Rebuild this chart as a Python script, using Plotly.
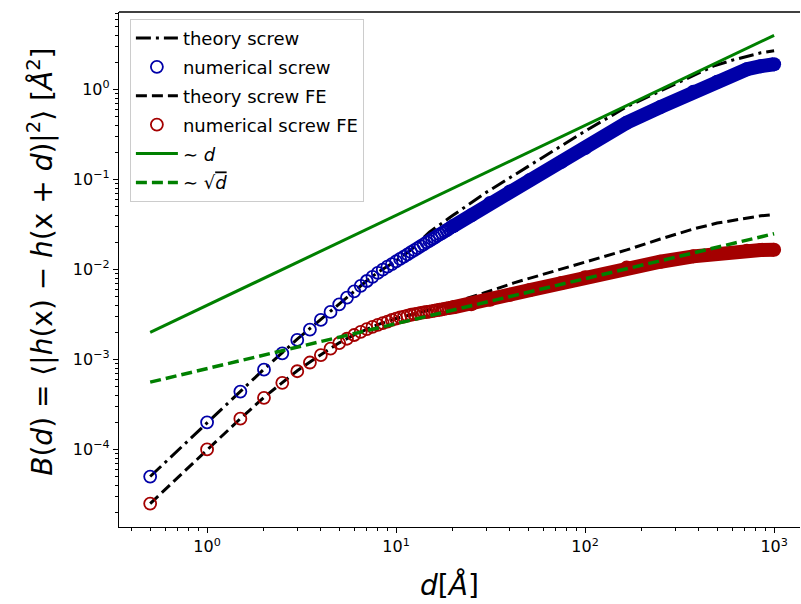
import plotly.graph_objects as go

# ---------------- data ----------------
d_num = [0.5, 1.0, 1.5, 2.0, 2.5, 3.0, 3.5, 4.0, 4.5, 5.0,
         5.5, 6.0, 6.5, 7.0, 7.5, 8.0, 8.5, 9.0, 9.5, 10.0,
         10.5, 11.0, 11.5, 12.0, 12.5, 13.0, 13.5, 14.0, 14.5, 15.0,
         15.5, 16.0, 16.5, 17.0, 17.5, 18.0, 18.5, 19.0, 19.5, 20.0]
screw_num = [5.0e-5, 2.0e-4, 4.4e-4, 7.7e-4, 1.17e-3, 1.65e-3, 2.15e-3, 2.75e-3, 3.38e-3, 4.1e-3,
             4.88e-3, 5.72e-3, 6.58e-3, 7.45e-3, 8.3e-3, 9.15e-3, 9.95e-3, 1.075e-2, 1.15e-2, 1.23e-2,
             1.31e-2, 1.39e-2, 1.475e-2, 1.56e-2, 1.64e-2, 1.73e-2, 1.82e-2, 1.90e-2, 2.00e-2, 2.08e-2,
             2.17e-2, 2.26e-2, 2.36e-2, 2.45e-2, 2.54e-2, 2.64e-2, 2.73e-2, 2.83e-2, 2.93e-2, 3.03e-2]
fe_num = [2.5e-5, 1.0e-4, 2.2e-4, 3.75e-4, 5.5e-4, 7.4e-4, 9.25e-4, 1.12e-3, 1.32e-3, 1.52e-3,
          1.70e-3, 1.87e-3, 2.03e-3, 2.17e-3, 2.30e-3, 2.42e-3, 2.53e-3, 2.64e-3, 2.75e-3, 2.85e-3,
          2.93e-3, 3.00e-3, 3.07e-3, 3.14e-3, 3.19e-3, 3.24e-3, 3.29e-3, 3.33e-3, 3.37e-3, 3.41e-3,
          3.45e-3, 3.49e-3, 3.53e-3, 3.57e-3, 3.61e-3, 3.65e-3, 3.69e-3, 3.73e-3, 3.77e-3, 3.80e-3]

# dense part of the numerical data (markers merge into a band)
d_band = [20, 25, 31.4, 40, 51, 75, 100, 166, 250, 374, 500, 718, 850, 1000]
screw_band = [0.0303, 0.040, 0.055, 0.0735, 0.099, 0.157, 0.224, 0.428, 0.638, 0.946, 1.22, 1.68, 1.82, 1.91]
fe_band = [3.8e-3, 4.1e-3, 4.6e-3, 5.25e-3, 5.9e-3, 7.1e-3, 8.2e-3, 0.0105, 0.0122, 0.0140, 0.0152, 0.0162, 0.0165, 0.0166]

d_th_screw = [0.5, 1, 1.5, 2, 3, 4, 5, 6, 7, 8, 10, 12, 15, 20, 30, 50, 75, 100,
              166, 250, 374, 477, 600, 718, 850, 1000]
screw_th = [5e-5, 2e-4, 4.45e-4, 7.8e-4, 1.68e-3, 2.8e-3, 4.15e-3, 5.8e-3, 7.5e-3, 9.3e-3,
            0.0125, 0.0165, 0.026, 0.040, 0.072, 0.14, 0.235, 0.345,
            0.644, 0.97, 1.43, 1.82, 2.12, 2.36, 2.56, 2.70]

d_th_fe = [0.5, 1, 1.5, 2, 3, 4, 5, 6, 7, 8, 10, 12, 15, 20, 26.7, 30, 42, 60, 80, 100,
           166, 250, 374, 500, 718, 850, 1000]
fe_th = [2.5e-5, 1e-4, 2.2e-4, 3.8e-4, 7.5e-4, 1.13e-3, 1.53e-3, 1.88e-3, 2.18e-3, 2.44e-3,
         2.85e-3, 3.15e-3, 3.55e-3, 4.25e-3, 5.15e-3, 5.6e-3, 7.1e-3, 8.8e-3, 0.0106, 0.0121,
         0.0165, 0.0218, 0.0282, 0.0328, 0.0375, 0.0395, 0.0408]

d_ref = [0.5, 1000]
lin_ref = [2.0e-3, 4.0]
sqrt_ref = [5.6e-4, 0.025]

x_tick_vals = [1, 10, 100, 1000]
x_tick_text = ["10<sup>0</sup>", "10<sup>1</sup>", "10<sup>2</sup>", "10<sup>3</sup>"]
y_tick_vals = [1e-4, 1e-3, 1e-2, 1e-1, 1]
y_tick_text = ["10<sup>\u22124</sup>", "10<sup>\u22123</sup>", "10<sup>\u22122</sup>",
               "10<sup>\u22121</sup>", "10<sup>0</sup>"]

labels = ["theory screw", "numerical screw", "theory screw FE", "numerical screw FE",
          "\u223c <i>d</i>",
          "\u223c \u221a<span style=\"text-decoration:overline\"><i>d</i></span>"]

# ---------------- styles ----------------
BLUE = "#0000A8"
RED = "#A40000"
GREEN = "#008000"
FONT = "DejaVu Sans"

fig = go.Figure()

# theory screw
fig.add_trace(go.Scatter(x=d_th_screw, y=screw_th, mode="lines", name=labels[0],
                         legendgroup="g1",
                         line=dict(color="black", width=3, dash="15px,5px,3px,5px")))
# numerical screw
fig.add_trace(go.Scatter(x=d_num, y=screw_num, mode="markers", name=labels[1],
                         legendgroup="g2",
                         marker=dict(symbol="circle-open", size=12, color=BLUE,
                                     line=dict(width=1.8, color=BLUE))))
fig.add_trace(go.Scatter(x=d_band, y=screw_band, mode="lines+markers", showlegend=False,
                         legendgroup="g2", hoverinfo="skip",
                         line=dict(color=BLUE, width=14),
                         marker=dict(symbol="circle", size=14, color=BLUE)))
# theory screw FE
fig.add_trace(go.Scatter(x=d_th_fe, y=fe_th, mode="lines", name=labels[2],
                         legendgroup="g3",
                         line=dict(color="black", width=3, dash="11px,5px")))
# numerical screw FE
fig.add_trace(go.Scatter(x=d_num, y=fe_num, mode="markers", name=labels[3],
                         legendgroup="g4",
                         marker=dict(symbol="circle-open", size=12, color=RED,
                                     line=dict(width=1.8, color=RED))))
fig.add_trace(go.Scatter(x=d_band, y=fe_band, mode="lines+markers", showlegend=False,
                         legendgroup="g4", hoverinfo="skip",
                         line=dict(color=RED, width=14),
                         marker=dict(symbol="circle", size=14, color=RED)))
# ~ d
fig.add_trace(go.Scatter(x=d_ref, y=lin_ref, mode="lines", name=labels[4],
                         legendgroup="g5", line=dict(color=GREEN, width=3)))
# ~ sqrt(d)
fig.add_trace(go.Scatter(x=d_ref, y=sqrt_ref, mode="lines", name=labels[5],
                         legendgroup="g6", line=dict(color=GREEN, width=3.5, dash="11px,5px")))

x_minor = [k * 10 ** e for e in range(-1, 4) for k in range(2, 10)]
y_minor = [k * 10.0 ** e for e in range(-5, 1) for k in range(2, 10)]

axis_common = dict(type="log", showline=True, linecolor="black", linewidth=1.3,
                   mirror=False, ticks="outside", ticklen=5, tickwidth=1.2, tickcolor="black",
                   showgrid=False, zeroline=False,
                   tickfont=dict(family=FONT, size=16, color="black"),
                   tickmode="array")

fig.update_xaxes(range=[-0.466, 3.137], tickvals=x_tick_vals, ticktext=x_tick_text,
                 minor=dict(tickmode="array", tickvals=x_minor, ticks="outside", ticklen=3,
                            tickwidth=0.9, tickcolor="black", showgrid=False),
                 **axis_common)
fig.update_yaxes(range=[-4.862, 0.862], tickvals=y_tick_vals, ticktext=y_tick_text,
                 minor=dict(tickmode="array", tickvals=y_minor, ticks="outside", ticklen=3,
                            tickwidth=0.9, tickcolor="black", showgrid=False),
                 **axis_common)

fig.update_layout(
    width=801, height=604,
    margin=dict(l=119, r=1, t=12, b=77),
    paper_bgcolor="white", plot_bgcolor="white",
    font=dict(family=FONT, color="black"),
    legend=dict(x=0.016, y=0.987, xanchor="left", yanchor="top",
                bgcolor="rgba(255,255,255,0.8)", bordercolor="#cccccc", borderwidth=1,
                font=dict(family=FONT, size=18, color="black"),
                traceorder="grouped", tracegroupgap=2.5, itemwidth=42),
    shapes=[dict(type="line", xref="paper", yref="paper", x0=0, x1=1, y0=1, y1=1,
                 line=dict(color="black", width=1.3))],
    annotations=[
        dict(text="<i>B</i>(<i>d</i>) = \u27e8|<i>h</i>(x) \u2212 <i>h</i>(x + <i>d</i>)|<sup>2</sup>\u27e9 [<i>\u00c5</i><sup>2</sup>]",
             xref="paper", yref="paper", x=-0.1145, y=0.515, textangle=-90,
             xanchor="center", yanchor="middle", showarrow=False,
             font=dict(family=FONT, size=28, color="black")),
        dict(text="<i>d</i>[<i>\u00c5</i>]", xref="paper", yref="paper",
             x=0.486, y=-0.1126, xanchor="center", yanchor="middle", showarrow=False,
             font=dict(family=FONT, size=28, color="black")),
    ],
)

fig.write_html("out.html")
